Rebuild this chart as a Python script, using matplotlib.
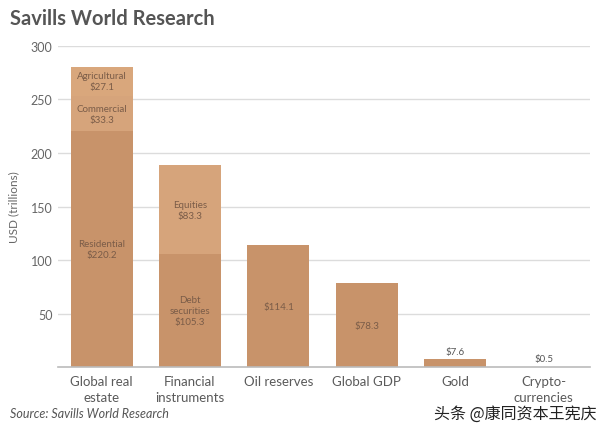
import numpy as np
import matplotlib.pyplot as plt

plt.rcParams['font.family'] = ['Lato', 'DejaVu Sans']

categories = ['Global real\nestate', 'Financial\ninstruments', 'Oil reserves',
              'Global GDP', 'Gold', 'Crypto-\ncurrencies']
# stacked segments: bottom, middle, top (trillions USD)
seg1 = [220.2, 105.3, 114.1, 78.3, 7.6, 0.5]
seg2 = [33.3, 83.3, 0, 0, 0, 0]
seg3 = [27.1, 0, 0, 0, 0, 0]
seg1_names = ['Residential', 'Debt\nsecurities', '', '', '', '']
seg2_names = ['Commercial', 'Equities', '', '', '', '']
seg3_names = ['Agricultural', '', '', '', '', '']
yticks = [50, 100, 150, 200, 250, 300]

c1 = '#c8936a'
c2 = '#d6a47b'
c3 = '#d9a77c'
txt = '#7a5c48'
grey = '#5a5a5a'

fig = plt.figure(figsize=(6, 4.27), dpi=100)
ax = fig.add_axes([0.097, 0.138, 0.886, 0.752])

x = np.arange(len(categories))
w = 0.7
s1 = np.array(seg1)
s2 = np.array(seg2)
s3 = np.array(seg3)
ax.bar(x, s1, w, color=c1, zorder=2)
ax.bar(x, s2, w, bottom=s1, color=c2, zorder=2)
ax.bar(x, s3, w, bottom=s1 + s2, color=c3, zorder=2)

def lab(name, v):
    return (name + '\n' if name else '') + '$' + format(v, 'g')

for i in range(len(x)):
    if s1[i] > 20:
        ax.text(x[i], s1[i] / 2, lab(seg1_names[i], s1[i]), ha='center', va='center',
                fontsize=7, color=txt, zorder=3, linespacing=1.3)
    else:
        ax.text(x[i], s1[i] + 3, lab('', s1[i]), ha='center', va='bottom',
                fontsize=7, color='#555555', zorder=3)
    if s2[i] > 0:
        ax.text(x[i], s1[i] + s2[i] / 2, lab(seg2_names[i], s2[i]), ha='center', va='center',
                fontsize=7, color=txt, zorder=3, linespacing=1.3)
    if s3[i] > 0:
        ax.text(x[i], s1[i] + s2[i] + s3[i] / 2, lab(seg3_names[i], s3[i]), ha='center', va='center',
                fontsize=7, color=txt, zorder=3, linespacing=1.3)

ax.set_xlim(-0.49, 5.52)
ax.set_ylim(0, 300)
ax.set_yticks(yticks)
ax.set_xticks(x)
ax.set_xticklabels(categories, fontsize=9.5, color=grey, linespacing=1.4)
ax.tick_params(axis='y', labelsize=9, colors='#666666', length=0, pad=4)
ax.tick_params(axis='x', length=0, pad=6)
ax.yaxis.grid(True, color='#dcdcdc', linewidth=1, zorder=0)
ax.set_axisbelow(True)
for sp in ['top', 'right', 'left']:
    ax.spines[sp].set_visible(False)
ax.spines['bottom'].set_color('#bbbbbb')
ax.spines['bottom'].set_linewidth(1.2)
ax.set_ylabel('USD (trillions)', fontsize=8.5, color='#666666', labelpad=8)

fig.text(0.017, 0.955, 'Savills World Research', fontsize=14.5, fontweight='bold',
         color='#555555', va='center')
fig.text(0.017, 0.03, 'Source: Savills World Research', fontsize=9, style='italic',
         color='#555555', va='center')
fig.text(0.995, 0.03, '头条 @康同资本王宪庆', fontsize=11.5, color='#222222',
         ha='right', va='center', family=['Noto Sans CJK SC', 'DejaVu Sans'], zorder=5)

fig.savefig('out.png', dpi=100)
